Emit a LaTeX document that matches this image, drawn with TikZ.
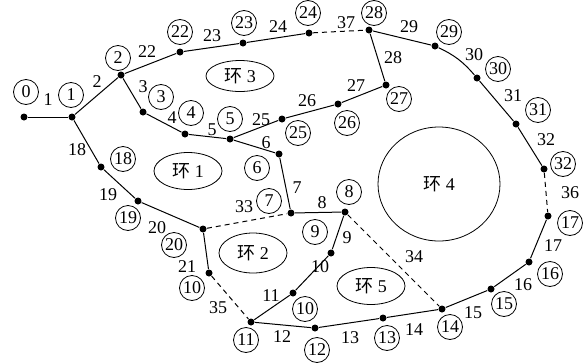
\documentclass[tikz,border=0pt]{standalone}
\usepackage{fontspec}
\setmainfont{Liberation Serif}
\newfontfamily\cjk{Noto Sans CJK SC}
\usetikzlibrary{shapes.geometric}

\begin{document}
\begin{tikzpicture}[x=1pt,y=-1pt,line width=1pt,
  font=\fontsize{18}{18}\selectfont,
  dot/.style={circle,fill,inner sep=0pt,minimum size=7pt},
  num/.style={circle,draw,line width=0.8pt,inner sep=0pt,minimum size=25pt},
  ring/.style={ellipse,draw,line width=0.8pt,inner sep=0pt,minimum width=68pt,minimum height=37pt},
  tie/.style={dash pattern=on 5pt off 4pt}]
  \useasboundingbox (0,0) rectangle (586,362);
  % buses
  \foreach \n/\x/\y in {0/24/117,1/72/117,2/121/75,3/143/112,4/185/134,5/230/139,
      6/279/154,7/291/213,8/345/212,9/331/253,10/293/293,11/251/322,12/315/328,
      13/383/318,14/442/309,15/491/289,16/529/262,17/548/216,18/101/167,19/138/201,
      20/203/229,21/209/273,22/180/52,23/243/43,24/309/33,25/282/119,26/338/104,
      27/386/85,28/369/30,29/435/46,30/477/78,31/516/124,32/544/169}
    \node[dot] (d\n) at (\x,\y) {};
  % bus numbers
  \foreach \n/\x/\y/\t in {0/26/92/0,1/71/95/1,2/118/58/2,3/161/97/3,4/191/113/4,
      5/230/119/5,6/257/168/6,7/269/201/7,8/349/192/8,9/315/232/9,10/305/309/10,
      11/246/340/11,12/317/350/12,13/387/338/13,14/450/327/14,15/504/304/15,
      16/550/274/16,17/570/223/17,18/123/159/18,19/128/218/19,20/174/245/20,
      21/192/288/10,22/180/32/22,23/244/23/23,24/308/13/24,25/298/133/25,
      26/347/123/26,27/399/99/27,28/374/13/28,29/449/32/29,30/498/69/30,
      31/538/110/31,32/563/164/32}
    \node[num] (c\n) at (\x,\y) {\t};
  % branches
  \foreach \a/\b in {0/1,1/2,2/22,22/23,23/24,28/29,30/31,31/32,17/16,16/15,15/14,
      14/13,13/12,12/11,11/10,10/9,9/8,8/7,7/6,6/5,5/4,4/3,3/2,1/18,18/19,19/20,
      20/21,5/25,25/26,26/27,27/28}
    \draw (d\a) -- (d\b);
  \draw (d29) to[bend left=12] (d30);
  % tie switches
  \foreach \a/\b in {24/28,32/17,20/7,21/11,8/14}
    \draw[tie] (d\a) -- (d\b);
  % branch numbers
  \foreach \t/\x/\y in {1/48/100,2/97/82,3/143/87,4/172/118,5/212/130,6/266/143,
      7/297/188,8/322/203,9/347/238,10/320/267,11/271/296,12/282/337,13/350/338,
      14/414/330,15/473/313,16/523/285,17/553/246,18/77/150,19/108/195,20/157/228,
      21/187/267,22/147/52,23/212/36,24/278/27,25/261/120,26/307/101,27/356/86,
      28/393/58,29/409/27,30/474/55,31/513/96,32/546/140,33/244/207,34/414/257,
      35/218/308,36/570/193,37/346/23}
    \node (e\t) at (\x,\y) {\t};
  % loops
  \node[ring] (r1) at (188,171) {{\cjk 环} 1};
  \node[ring,minimum height=40pt] (r2) at (253,253) {{\cjk 环} 2};
  \node[ring,minimum height=31pt] (r3) at (240,76) {{\cjk 环} 3};
  \node[ring,minimum width=122pt,minimum height=114pt] (r4) at (439,184) {{\cjk 环} 4};
  \node[ring] (r5) at (371,286) {{\cjk 环} 5};
\end{tikzpicture}
\end{document}
